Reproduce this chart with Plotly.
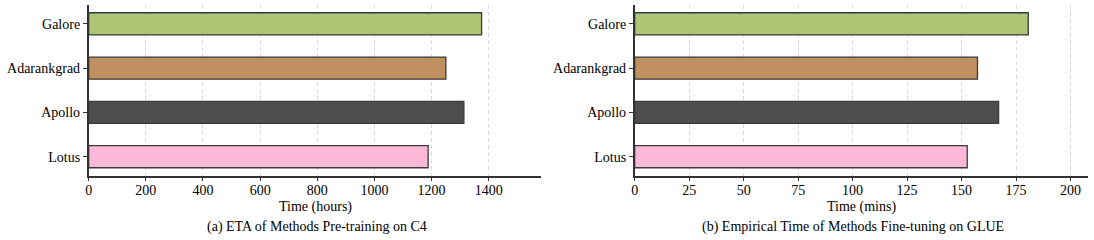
import plotly.graph_objects as go

methods = ["Lotus", "Apollo", "Adarankgrad", "Galore"]
colors = ["#fdb8d7", "#4d4d4d", "#c09060", "#adc574"]
hours = [1188, 1313, 1250, 1375]
mins = [152.6, 167.0, 157.3, 180.6]
hour_ticks = [0, 200, 400, 600, 800, 1000, 1200, 1400]
min_ticks = [0, 25, 50, 75, 100, 125, 150, 175, 200]

W, H = 1094, 240
FONT = "Liberation Serif"

fig = go.Figure()
fig.add_trace(go.Bar(y=methods, x=hours, orientation="h", width=0.5,
                     marker=dict(color=colors, line=dict(color="#3a3a3a", width=1.3)),
                     xaxis="x", yaxis="y", showlegend=False))
fig.add_trace(go.Bar(y=methods, x=mins, orientation="h", width=0.5,
                     marker=dict(color=colors, line=dict(color="#3a3a3a", width=1.3)),
                     xaxis="x2", yaxis="y2", showlegend=False))

def px_x(p):
    return p / W

def px_y(p):
    return 1 - p / H

ydom = [px_y(175.5), px_y(5)]
axis_common = dict(showline=True, linecolor="#333333", linewidth=1.5, ticks="outside",
                   ticklen=4, tickwidth=1, tickcolor="#333333",
                   tickfont=dict(family=FONT, size=14, color="black"),
                   zeroline=False, layer="above traces")
grid = dict(showgrid=True, gridcolor="rgba(195,195,195,0.6)", griddash="4px,3px", gridwidth=1)

fig.update_layout(
    width=W, height=H, margin=dict(l=0, r=0, t=0, b=0), autosize=False,
    plot_bgcolor="white", paper_bgcolor="white", bargap=0.5,
    xaxis=dict(domain=[px_x(85), px_x(539)], range=[0, 1583], tickvals=hour_ticks,
               anchor="y", ticklabelstandoff=-3, **grid, **axis_common),
    yaxis=dict(domain=ydom, range=[-0.425, 3.425], showgrid=False, anchor="x", **axis_common),
    xaxis2=dict(domain=[px_x(633), px_x(1087.5)], range=[0, 207.8], tickvals=min_ticks,
                anchor="y2", ticklabelstandoff=-3, **grid, **axis_common),
    yaxis2=dict(domain=ydom, range=[-0.425, 3.425], showgrid=False, anchor="x2", **axis_common),
    font=dict(family=FONT, size=14, color="black"),
)

ann = [
    ("Time (hours)", 313, 206.5),
    ("(a) ETA of Methods Pre-training on C4", 314, 227),
    ("Time (mins)", 861, 206.5),
    ("(b) Empirical Time of Methods Fine-tuning on GLUE", 852, 227),
]
for text, x, y in ann:
    fig.add_annotation(text=text, x=px_x(x), y=px_y(y), xref="paper", yref="paper",
                       showarrow=False, xanchor="center", yanchor="middle",
                       font=dict(family=FONT, size=14, color="black"))

fig.write_html("out.html", config={"displayModeBar": False},
               post_script="document.body.style.margin='0';document.body.style.overflow='hidden';")
